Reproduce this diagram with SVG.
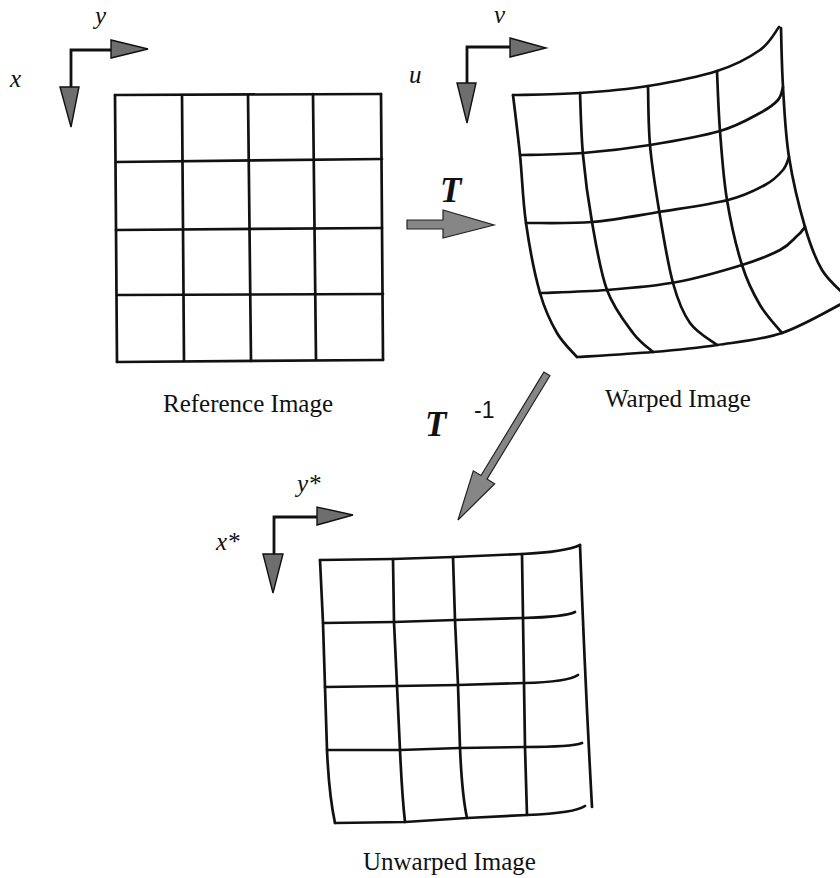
<svg xmlns="http://www.w3.org/2000/svg" width="840" height="878" viewBox="0 0 840 878">
<style>
.grid{fill:none;stroke:#111;stroke-width:2.7;stroke-linecap:round;stroke-linejoin:round}
.axis{fill:none;stroke:#111;stroke-width:2.8}
.head{fill:#6e6e6e;stroke:#111;stroke-width:1.4;stroke-linejoin:miter}
.big{fill:#868686;stroke:#222;stroke-width:1.2}
.lbl{font-family:"Liberation Serif","Times New Roman",serif;font-size:25px;fill:#111}
.var{font-family:"Liberation Serif","Times New Roman",serif;font-style:italic;font-size:25px;fill:#111}
.T{font-family:"Liberation Serif","Times New Roman",serif;font-style:italic;font-weight:bold;font-size:35px;fill:#111}
.sup{font-family:"Liberation Sans",Arial,sans-serif;font-size:23px;fill:#111}
</style>
<rect width="840" height="878" fill="#fff"/>

<g id="reference-image">
  <g class="grid">
    <line x1="115" y1="95" x2="117" y2="362"/>
    <line x1="182" y1="95" x2="184" y2="361"/>
    <line x1="248" y1="95" x2="251" y2="361"/>
    <line x1="313" y1="94" x2="316" y2="360"/>
    <line x1="381" y1="94" x2="383" y2="360"/>
    <line x1="115" y1="95" x2="381" y2="94"/>
    <line x1="116" y1="162" x2="382" y2="159"/>
    <line x1="116" y1="230" x2="382" y2="228"/>
    <line x1="117" y1="295" x2="383" y2="294"/>
    <line x1="117" y1="362" x2="383" y2="360"/>
  </g>
  <g id="ref-axes">
    <polyline class="axis" points="71,88 71,50 111,50"/>
    <polygon class="head" points="60,87 79,87 71,127"/>
    <polygon class="head" points="111,40 111,58 148,49"/>
    <text class="var" x="95" y="24">y</text>
    <text class="var" x="10" y="87">x</text>
  </g>
  <text class="lbl" x="163" y="412">Reference Image</text>
</g>

<g id="warped-image">
  <g class="grid">
    <path d="M513,95 C524.2,94.7 557.5,94.5 580,93 C602.5,91.5 625.2,89.7 648,86 C670.8,82.3 698.3,77 717,71 C735.7,65 749.7,57.3 760,50 C770.3,42.7 775.8,30.8 779,27"/>
    <path d="M513,95 C514.2,105 517.8,133.7 520,155 C522.2,176.3 522.7,200 526,223 C529.3,246 534.8,274.7 540,293 C545.2,311.3 550.8,322.3 557,333 C563.2,343.7 573.7,353 577,357"/>
    <path d="M577,357 C589.7,356.2 629.7,354 653,352 C676.3,350 695.5,348.2 717,345 C738.5,341.8 760.7,340.2 782,333 C803.3,325.8 834.5,307.2 845,302"/>
    <path d="M781,28 C781.3,37.8 781.7,65.5 783,87 C784.3,108.5 785.3,133.7 789,157 C792.7,180.3 799.5,208.2 805,227 C810.5,245.8 815.2,258.5 822,270 C828.8,281.5 842,291.7 846,296"/>
    <path d="M580,93 C580.5,103.3 581,133.5 583,155 C585,176.5 588,199.5 592,222 C596,244.5 600.2,271.5 607,290 C613.8,308.5 625.3,322.7 633,333 C640.7,343.3 649.7,348.8 653,352"/>
    <path d="M648,86 C648.3,95.8 648.2,124 650,145 C651.8,166 655.2,187 659,210 C662.8,233 667.8,264.2 673,283 C678.2,301.8 682.7,312.7 690,323 C697.3,333.3 712.5,341.3 717,345"/>
    <path d="M717,71 C717.5,81 718.3,109.5 720,131 C721.7,152.5 723.3,177.7 727,200 C730.7,222.3 736.5,247.5 742,265 C747.5,282.5 753.3,293.7 760,305 C766.7,316.3 778.3,328.3 782,333"/>
    <path d="M520,155 C530.5,154.7 561.3,154.7 583,153 C604.7,151.3 627.2,148.7 650,145 C672.8,141.3 701.7,136.3 720,131 C738.3,125.7 750.3,118.2 760,113 C769.7,107.8 774.2,104.3 778,100 C781.8,95.7 782.2,89.2 783,87"/>
    <path d="M526,223 C537,222.8 569.8,223.8 592,222 C614.2,220.2 636.3,215.7 659,212 C681.7,208.3 710.3,204.5 728,200 C745.7,195.5 755.8,190 765,185 C774.2,180 779,174.7 783,170 C787,165.3 788,159.2 789,157"/>
    <path d="M540,293 C551.2,292.5 584.2,291.8 607,290 C629.8,288.2 654.5,286.2 677,282 C699.5,277.8 724.8,270.3 742,265 C759.2,259.7 770.8,254.8 780,250 C789.2,245.2 792.8,239.8 797,236 C801.2,232.8 803.7,228.5 805,227"/>
  </g>
  <g id="warp-axes">
    <polyline class="axis" points="467,84 467,47 510,47"/>
    <polygon class="head" points="457,83 476,83 467,123"/>
    <polygon class="head" points="510,38 510,57 546,48"/>
    <text class="var" x="494" y="23">v</text>
    <text class="var" x="409" y="83">u</text>
  </g>
  <text class="lbl" x="605" y="407">Warped Image</text>
</g>

<g id="unwarped-image">
  <g class="grid">
    <path d="M320,560 L393,559 L453,557 L522,554 Q565,552 580,545"/>
    <path d="M320,560 L323,623 L325,687 L327,750 Q329,795 335,823"/>
    <path d="M393,559 L394,622 L397,686 L400,750 Q402,795 405,822"/>
    <path d="M453,557 L455,620 L458,685 L460,748 Q462,795 467,818"/>
    <path d="M522,554 L523,618 L524,683 L525,747 L527,815"/>
    <path d="M580,545 Q585,680 592,807"/>
    <path d="M323,623 L394,622 L455,620 L523,618 Q565,617 575,612"/>
    <path d="M325,687 L397,686 L458,685 L524,683 Q568,682 578,675"/>
    <path d="M327,750 L400,750 L460,748 L525,747 Q572,747 582,743"/>
    <path d="M335,823 L405,822 L467,818 L527,815 Q575,813 585,806"/>
  </g>
  <g id="unwarp-axes">
    <polyline class="axis" points="274,555 274,517 317,517"/>
    <polygon class="head" points="263,554 283,554 273,593"/>
    <polygon class="head" points="317,507 317,525 353,515"/>
    <text class="var" x="297" y="492">y*</text>
    <text class="var" x="216" y="550">x*</text>
  </g>
  <text class="lbl" x="363" y="870">Unwarped Image</text>
</g>

<g id="connectors">
  <g id="forward-T">
    <polygon class="big" points="407,220 443,220 443,210 494,225 443,238 443,229 407,229"/>
    <text class="T" x="440" y="202">T</text>
  </g>
  <g id="inverse-T">
    <polygon class="big" points="549.9,375.7 487.0,479.1 494.7,483.8 458,520 473.3,470.8 481.0,475.5 543.9,372.1"/>
    <text class="T" x="425" y="436">T</text>
    <text class="sup" x="474" y="418">-1</text>
  </g>
</g>
</svg>
